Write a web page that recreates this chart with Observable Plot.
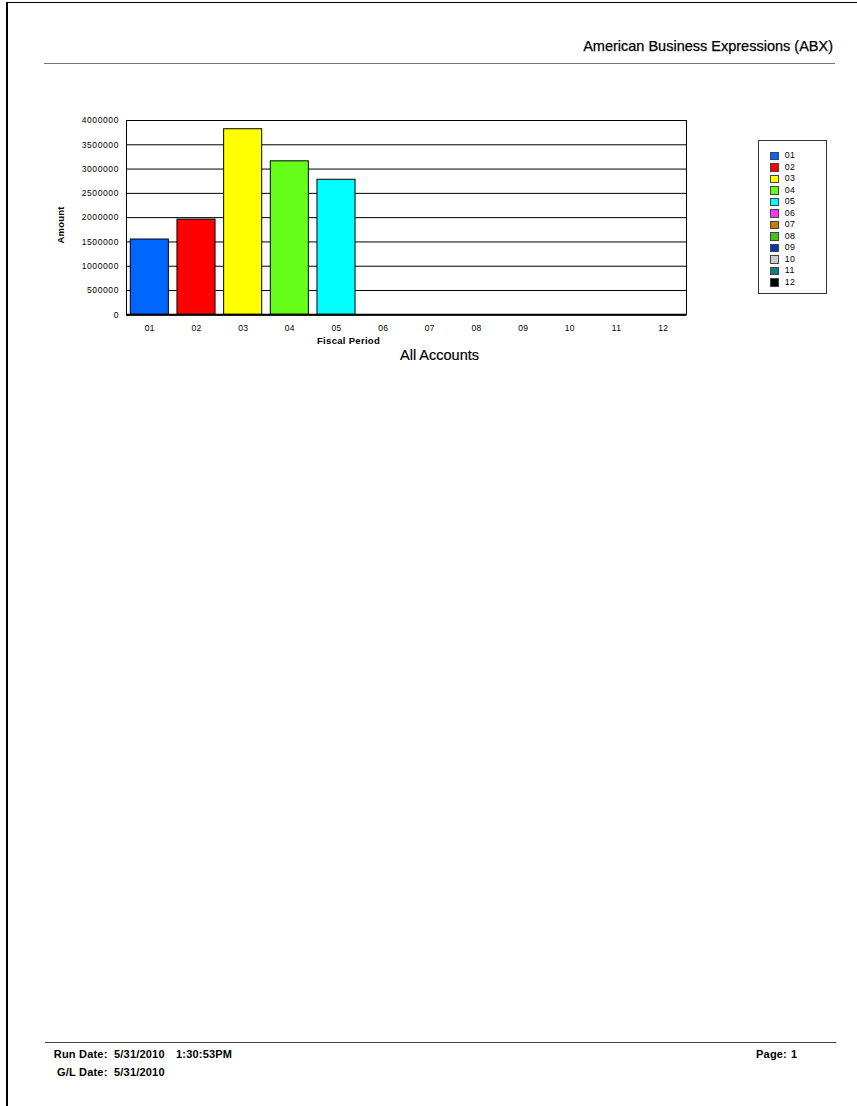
<!DOCTYPE html>
<html>
<head>
<meta charset="utf-8">
<script src="https://cdn.jsdelivr.net/npm/d3@7"></script>
<script src="https://cdn.jsdelivr.net/npm/@observablehq/plot@0.6"></script>
<style>
  html, body { margin: 0; padding: 0; background: #fff; }
  #page { position: relative; width: 857px; height: 1106px; overflow: hidden; font-family: "Liberation Sans", Arial, sans-serif; color: #000; }
  .abs { position: absolute; white-space: nowrap; line-height: 1; }
  #chart { position: absolute; left: 0; top: 0; }
  #chart svg [aria-label="y-axis tick label"] text { letter-spacing: 0.6px; }
  #chart svg [aria-label="x-axis tick label"] text { letter-spacing: 0.3px; }
  .legend-row { display: flex; align-items: center; height: 11.5px; }
  .sw { width: 9px; height: 8.5px; box-sizing: border-box; border: 0.6px solid #444; margin-right: 6px; }
  .lt { font-size: 8.8px; letter-spacing: 0.5px; line-height: 1; }
</style>
</head>
<body>
<div id="page">
  <!-- page border -->
  <div class="abs" style="left:6px; top:1.7px; width:851px; height:1.4px; background:#000;"></div>
  <div class="abs" style="left:6px; top:1.7px; width:2px; height:1105px; background:#000;"></div>
  <!-- header -->
  <div class="abs" id="title" style="right:24px; top:38.7px; font-size:14.5px; -webkit-text-stroke:0.25px #000;"></div>
  <div class="abs" style="left:44px; top:62.8px; width:791px; height:1px; background:#777;"></div>
  <div id="chart"></div>
  <div class="abs" id="xlabel" style="left:317px; top:336.3px; font-size:9.5px; font-weight:bold; letter-spacing:0.3px;"></div>
  <div class="abs" id="chartTitle" style="left:400px; top:348.4px; font-size:14.5px; -webkit-text-stroke:0.2px #000;"></div>
  <div class="abs" id="ylabel" style="left:60.7px; top:225.3px; font-size:9.5px; font-weight:bold; letter-spacing:0.2px; transform: translate(-50%,-50%) rotate(-90deg);"></div>
  <div class="abs" id="legend" style="left:757.7px; top:140px; width:69.6px; height:154px; box-sizing:border-box; border:1px solid #333; padding-left:11px; padding-top:9px;"></div>
  <!-- footer -->
  <div class="abs" style="left:45px; top:1042px; width:791px; height:1.3px; background:#444;"></div>
  <div id="footer"></div>
</div>
<script>
// ---- data ----
const periods = ["01","02","03","04","05","06","07","08","09","10","11","12"];
const amounts = [1550000, 1960000, 3820000, 3160000, 2780000, 0, 0, 0, 0, 0, 0, 0];
const colors  = ["#0066ff","#ff0000","#ffff00","#66ff1a","#00ffff","#ff33ff","#cc7a00","#4dbf1a","#0039b3","#cccccc","#0f7f80","#000000"];
const yTicks  = [0, 500000, 1000000, 1500000, 2000000, 2500000, 3000000, 3500000, 4000000];
const titleText = "American Business Expressions (ABX)";
const chartTitleText = "All Accounts";
const xLabelText = "Fiscal Period";
const yLabelText = "Amount";
const footerLabels = ["Run Date:", "G/L Date:"];
const footerValues = [["5/31/2010", "1:30:53PM"], ["5/31/2010"]];
const pageLabel = "Page:";
const pageNumber = "1";

const data = periods.map((p, i) => ({period: p, amount: amounts[i]}));

const svg = Plot.plot({
  width: 857,
  height: 380,
  marginTop: 120,
  marginLeft: 126,
  marginRight: 171,
  marginBottom: 65.7,
  style: {fontFamily: "Liberation Sans, Arial, sans-serif", background: "transparent", color: "#000"},
  x: {domain: periods, padding: 0, round: false, label: null},
  y: {domain: [0, 4000000], label: null},
  color: {domain: periods, range: colors},
  marks: [
    Plot.gridY(yTicks, {stroke: "#000", strokeOpacity: 1, strokeWidth: 1}),
    Plot.barY(data, {x: "period", y: "amount", fill: "period", stroke: "#000", strokeWidth: 1, insetLeft: 4.3, insetRight: 4.3}),
    Plot.frame({stroke: "#000", strokeWidth: 1}),
    Plot.ruleY([0], {stroke: "#000", strokeWidth: 2}),
    Plot.axisY({ticks: yTicks, tickSize: 0, tickPadding: 7.5, tickFormat: d3.format("d"), label: null, fontSize: 8.5}),
    Plot.axisX({tickSize: 0, tickPadding: 10, label: null, fontSize: 8.5})
  ]
});
document.getElementById("chart").appendChild(svg);

document.getElementById("title").textContent = titleText;
document.getElementById("chartTitle").textContent = chartTitleText;
document.getElementById("xlabel").textContent = xLabelText;
document.getElementById("ylabel").textContent = yLabelText;

const legend = document.getElementById("legend");
periods.forEach((p, i) => {
  const row = document.createElement("div");
  row.className = "legend-row";
  const sw = document.createElement("div");
  sw.className = "sw";
  sw.style.background = colors[i];
  const t = document.createElement("div");
  t.className = "lt";
  t.textContent = p;
  row.appendChild(sw); row.appendChild(t);
  legend.appendChild(row);
});

const footer = document.getElementById("footer");
const baselines = [1058, 1076];
const fs = 11;
function addText(txt, opts) {
  const d = document.createElement("div");
  d.className = "abs";
  d.style.fontSize = fs + "px";
  d.style.fontWeight = "bold";
  d.style.letterSpacing = "0.2px";
  d.style.top = (opts.baseline - 0.8465 * fs) + "px";
  if (opts.right != null) d.style.right = opts.right + "px";
  else d.style.left = opts.left + "px";
  d.textContent = txt;
  footer.appendChild(d);
}
footerLabels.forEach((lab, i) => {
  addText(lab, {baseline: baselines[i], right: 857 - 107.5});
  addText(footerValues[i][0], {baseline: baselines[i], left: 114});
  if (footerValues[i][1]) addText(footerValues[i][1], {baseline: baselines[i], left: 176});
});
addText(pageLabel, {baseline: baselines[0], right: 857 - 787});
addText(pageNumber, {baseline: baselines[0], left: 791});
</script>
</body>
</html>
